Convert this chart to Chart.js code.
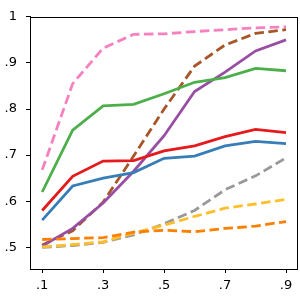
<!DOCTYPE html>
<html>
<head>
<meta charset="utf-8">
<script src="https://cdn.jsdelivr.net/npm/chart.js@4.4.1/dist/chart.umd.min.js"></script>
<style>
    html, body { margin: 0; padding: 0; background: #ffffff; }
    #wrap { width: 300px; height: 300px; }
</style>
</head>
<body>
<div id="wrap"><canvas id="grafico" width="300" height="300"></canvas></div>
<script>
// valores
const xValores = [0.1, 0.2, 0.3, 0.4, 0.5, 0.6, 0.7, 0.8, 0.9];
const xTicks   = [0.1, 0.3, 0.5, 0.7, 0.9];
const yTicks   = [0.5, 0.6, 0.7, 0.8, 0.9, 1.0];

const rosa    = [0.668, 0.855, 0.932, 0.962, 0.963, 0.968, 0.972, 0.976, 0.978];
const verde   = [0.620, 0.754, 0.807, 0.810, 0.833, 0.858, 0.868, 0.888, 0.883];
const marrom  = [0.505, 0.536, 0.598, 0.698, 0.800, 0.893, 0.939, 0.964, 0.972];
const roxo    = [0.503, 0.541, 0.596, 0.665, 0.742, 0.838, 0.880, 0.926, 0.950];
const vermelho= [0.580, 0.654, 0.687, 0.688, 0.709, 0.720, 0.740, 0.756, 0.749];
const azul    = [0.559, 0.633, 0.650, 0.662, 0.693, 0.698, 0.720, 0.730, 0.725];
const cinza   = [0.500, 0.504, 0.511, 0.527, 0.551, 0.580, 0.625, 0.655, 0.694];
const amarelo = [0.501, 0.506, 0.512, 0.531, 0.548, 0.567, 0.585, 0.594, 0.604];
const laranja = [0.517, 0.519, 0.521, 0.533, 0.537, 0.534, 0.541, 0.546, 0.556];

function serie(valores, cor, tracejado) {
    return {
        data: xValores.map((x, i) => ({ x: x, y: valores[i] })),
        borderColor: cor,
        borderWidth: 2.8,
        borderDash: tracejado ? [9.5, 4.5] : [],
        borderCapStyle: 'butt',
        pointRadius: 0,
        tension: 0,
        fill: false
    };
}

function formatar(v) {
    if (Math.abs(v - 1) < 1e-9) return '1';
    return v.toFixed(1).replace(/^0/, '');
}

// desenha a moldura completa em volta da área do gráfico
const moldura = {
    id: 'moldura',
    afterDatasetsDraw(chart) {
        const a = chart.chartArea;
        const ctx = chart.ctx;
        ctx.save();
        ctx.strokeStyle = '#000000';
        ctx.lineWidth = 1;
        ctx.strokeRect(Math.round(a.left) + 0.5, Math.round(a.top) + 0.5,
                       Math.round(a.right - a.left), Math.round(a.bottom - a.top));
        ctx.restore();
    }
};

const fonte = { family: 'DejaVu Sans', size: 13 };

new Chart(document.getElementById('grafico'), {
    type: 'line',
    data: {
        datasets: [
            serie(laranja, '#ff7f00', true),
            serie(amarelo, '#ffbf2a', true),
            serie(cinza, '#999999', true),
            serie(azul, '#377eb8', false),
            serie(vermelho, '#e41a1c', false),
            serie(verde, '#4daf4a', false),
            serie(roxo, '#984ea3', false),
            serie(marrom, '#a65628', true),
            serie(rosa, '#f781bf', true)
        ]
    },
    options: {
        responsive: false,
        animation: false,
        layout: { padding: { top: 15, right: 3, left: 0, bottom: 0 } },
        plugins: { legend: { display: false }, tooltip: { enabled: false } },
        scales: {
            x: {
                type: 'linear',
                min: 0.06,
                max: 0.936,
                afterBuildTicks: (s) => { s.ticks = xTicks.map(v => ({ value: v })); },
                afterFit: (s) => { s.height = 31; },
                ticks: { color: '#000000', font: fonte, padding: 5, maxRotation: 0, callback: formatar },
                grid: { drawOnChartArea: false, drawTicks: true, tickLength: 4, color: '#000000' },
                border: { display: true, color: '#000000' }
            },
            y: {
                type: 'linear',
                min: 0.453,
                max: 1.0,
                afterBuildTicks: (s) => { s.ticks = yTicks.map(v => ({ value: v })); },
                afterFit: (s) => { s.width = 30; },
                ticks: { color: '#000000', font: fonte, padding: 9, callback: formatar },
                grid: { drawOnChartArea: false, drawTicks: true, tickLength: 4, color: '#000000' },
                border: { display: true, color: '#000000' }
            }
        }
    },
    plugins: [moldura]
});
</script>
</body>
</html>
